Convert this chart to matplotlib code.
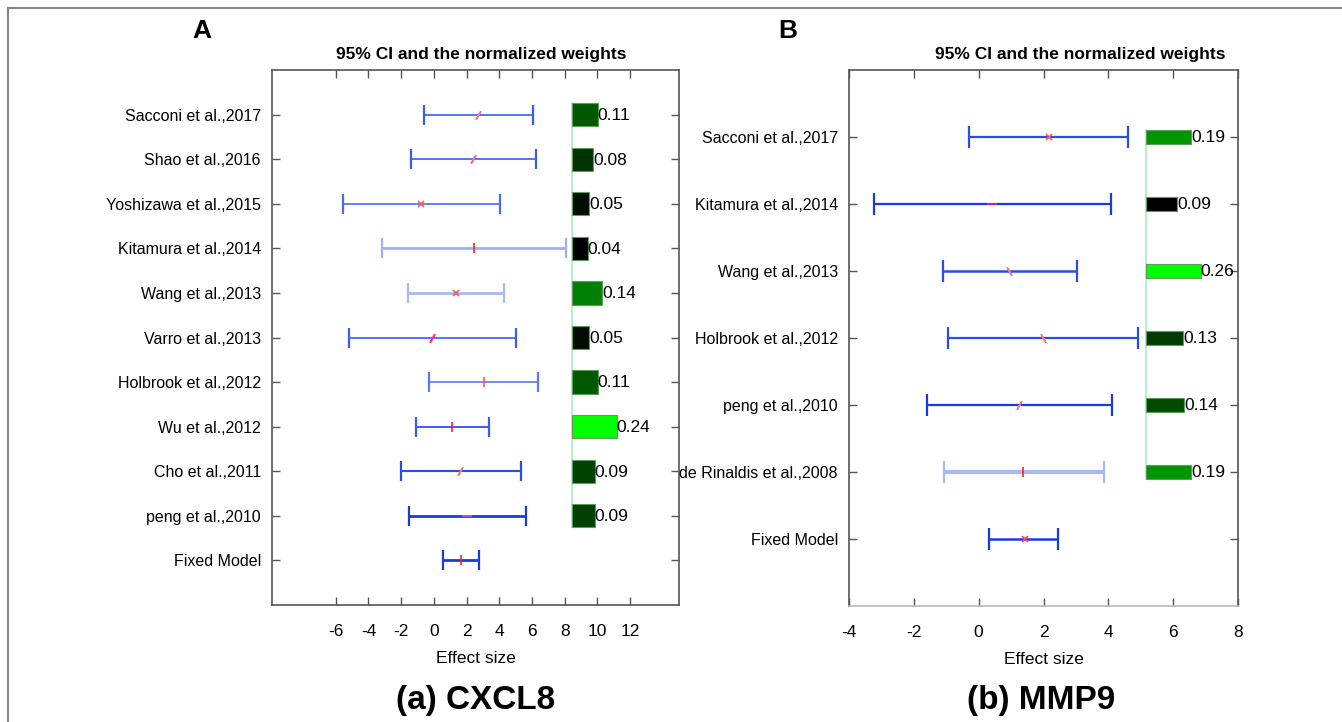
import numpy as np
import matplotlib
matplotlib.use('Agg')
import matplotlib.pyplot as plt
from matplotlib.lines import Line2D

plt.rcParams['font.family'] = ['Liberation Sans', 'DejaVu Sans']

# ---- data: panel A (CXCL8) ----
studies_a = ['Sacconi et al.,2017', 'Shao et al.,2016', 'Yoshizawa et al.,2015',
             'Kitamura et al.,2014', 'Wang et al.,2013', 'Varro et al.,2013',
             'Holbrook et al.,2012', 'Wu et al.,2012', 'Cho et al.,2011',
             'peng et al.,2010', 'Fixed Model']
effect_a = [2.69, 2.41, -0.77, 2.45, 1.35, -0.14, 3.06, 1.13, 1.63, 2.04, 1.68]
lo_a = [-0.61, -1.38, -5.55, -3.14, -1.59, -5.20, -0.31, -1.08, -1.98, -1.53, 0.59]
hi_a = [6.09, 6.27, 4.04, 8.07, 4.29, 5.00, 6.37, 3.37, 5.35, 5.66, 2.76]
weights_a = [0.11, 0.08, 0.05, 0.04, 0.14, 0.05, 0.11, 0.24, 0.09, 0.09]
xticks_a = [-6, -4, -2, 0, 2, 4, 6, 8, 10, 12]

# ---- data: panel B (MMP9) ----
studies_b = ['Sacconi et al.,2017', 'Kitamura et al.,2014', 'Wang et al.,2013',
             'Holbrook et al.,2012', 'peng et al.,2010', 'de Rinaldis et al.,2008',
             'Fixed Model']
effect_b = [2.17, 0.42, 0.94, 1.97, 1.25, 1.38, 1.42]
lo_b = [-0.31, -3.22, -1.11, -0.96, -1.59, -1.08, 0.33]
hi_b = [4.61, 4.07, 3.04, 4.90, 4.11, 3.87, 2.46]
weights_b = [0.19, 0.09, 0.26, 0.13, 0.14, 0.19]
xticks_b = [-4, -2, 0, 2, 4, 6, 8]

# ---- styles ----
ci_col_a = ['#3a5cf0', '#3a5cf0', '#4a6af0', '#9fb0fb', '#a8b8fb', '#3a5cf0',
            '#5a78f2', '#3a5cf0', '#2a4ce8', '#1a3ae0', '#1a3ae0']
ci_lw_a = [1.2, 1.2, 1.2, 2.0, 2.0, 1.2, 1.2, 1.4, 1.5, 2.0, 2.0]
mk_a = [(2, 2, -30), (2, 2, -30), 'x', '|', 'x', (2, 2, -30), '|', '|', (2, 2, -30), '_', '|']
mk_col_a = ['#ff7777', '#ff6699', '#ff5555', '#ff2222', '#ff5555', '#ff3366',
            '#ff5555', '#ff2222', '#ff7777', '#cc55cc', '#ff2222']

ci_col_b = ['#2a4ce8', '#1a3ae0', '#2a4ce8', '#2a4ce8', '#1a3ae0', '#a8b8f0', '#1a3ae0']
ci_lw_b = [1.6, 1.6, 1.8, 1.6, 1.6, 3.0, 1.8]
mk_b = ['x', '_', (2, 2, 30), (2, 2, 30), (2, 2, -30), '|', 'x']
mk_col_b = ['#ff5555', '#ee2277', '#ff7777', '#ff7777', '#ff7777', '#ff2222', '#ff4444']

fig = plt.figure(figsize=(13.42, 7.22), dpi=100)
W, H = 1342, 722


def px_axes(l, t, r, b):
    return fig.add_axes([l / W, 1 - b / H, (r - l) / W, (b - t) / H])


def draw_panel(ax, studies, effect, lo, hi, weights, xticks, xlim, ylim,
               ci_col, ci_lw, mk, mk_col, bar_left, bar_h, bar_scale, cap,
               bar_off=0.6):
    n = len(studies)
    y = np.arange(n, 0, -1)
    for i in range(n):
        ax.errorbar(effect[i], y[i],
                    xerr=[[effect[i] - lo[i]], [hi[i] - effect[i]]],
                    fmt='none', ecolor=ci_col[i], elinewidth=ci_lw[i],
                    capsize=cap, capthick=1.6)
        ms = 5 if mk[i] == 'x' else 7
        ax.plot(effect[i], y[i], linestyle='none', marker=mk[i],
                color=mk_col[i], ms=ms, mew=1.2)
    w = np.array(weights)
    g = (w - w.min()) / (w.max() - w.min())
    colors = [(0, gi, 0) for gi in g]
    # bar length grows with the weight on top of a fixed stub
    lengths = bar_off + bar_scale * w
    ax.barh(y[:-1], lengths, left=bar_left, height=bar_h, color=colors,
            edgecolor='#5c9c5c', linewidth=0.8, zorder=3)
    for yi, L, wi in zip(y[:-1], lengths, w):
        ax.text(bar_left + L, yi - 0.02 * (ylim[1] - ylim[0]) / 12, f'{wi:.2f}',
                va='center', ha='left', fontsize=12.5, zorder=4)
    ax.plot([bar_left, bar_left], [y[-2] - bar_h / 2, y[0] + bar_h / 2],
            color='#aaeec0', lw=1.2, zorder=2)
    ax.set_xlim(*xlim)
    ax.set_ylim(*ylim)
    ax.set_yticks(y)
    ax.set_yticklabels(studies, fontsize=11.5)
    ax.set_xticks(xticks)
    ax.set_xticklabels([str(t) for t in xticks], fontsize=12.5)
    ax.tick_params(direction='in', top=True, right=True, length=6,
                   color='#555555', width=1)
    ax.tick_params(axis='x', pad=14)
    ax.tick_params(axis='y', pad=8)
    for s in ax.spines.values():
        s.set_color('#555555')
        s.set_linewidth(1.2)
    ax.set_xlabel('Effect size', fontsize=12.5, labelpad=8)


ax_a = px_axes(272, 70, 679, 605)
draw_panel(ax_a, studies_a, effect_a, lo_a, hi_a, weights_a, xticks_a,
           (-9.9, 15.0), (0, 12), ci_col_a, ci_lw_a, mk_a, mk_col_a,
           bar_left=8.45, bar_h=0.52, bar_scale=8.9, cap=7)

ax_b = px_axes(849, 70, 1238, 606)
draw_panel(ax_b, studies_b, effect_b, lo_b, hi_b, weights_b, xticks_b,
           (-4, 8), (0, 8), ci_col_b, ci_lw_b, mk_b, mk_col_b,
           bar_left=5.15, bar_h=0.22, bar_scale=4.24, cap=8)
ax_b.spines['bottom'].set_color('#bbbbbb')

# titles, panel letters and captions
title = '95% CI and the normalized weights'
fig.text(481 / W, 1 - 55 / H, title, ha='center', va='center',
         fontsize=12.5, fontweight='bold')
fig.text(1080 / W, 1 - 55 / H, title, ha='center', va='center',
         fontsize=12.5, fontweight='bold')
fig.text(202 / W, 1 - 31 / H, 'A', ha='center', va='center',
         fontsize=19, fontweight='bold')
fig.text(788 / W, 1 - 31 / H, 'B', ha='center', va='center',
         fontsize=19, fontweight='bold')
fig.text(476 / W, 1 - 700 / H, '(a) CXCL8', ha='center', va='center',
         fontsize=24, fontweight='bold')
fig.text(1041 / W, 1 - 700 / H, '(b) MMP9', ha='center', va='center',
         fontsize=24, fontweight='bold')

# outer frame
fig.add_artist(Line2D([8 / W, 8 / W], [0, 1 - 8 / H], transform=fig.transFigure,
                      color='#888888', lw=1.5))
fig.add_artist(Line2D([8 / W, 1], [1 - 8 / H, 1 - 8 / H], transform=fig.transFigure,
                      color='#888888', lw=1.5))

fig.savefig('out.png', dpi=100)
